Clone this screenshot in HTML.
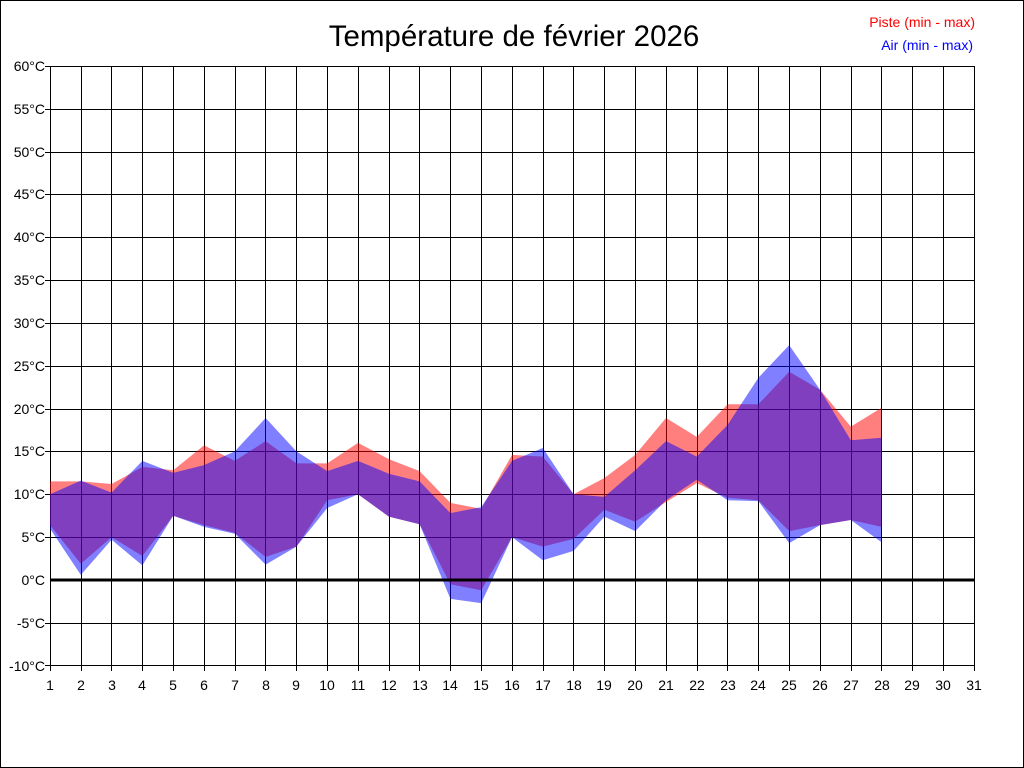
<!DOCTYPE html>
<html><head><meta charset="utf-8"><style>
html,body{margin:0;padding:0;background:#fff;}
svg{display:block;font-family:"Liberation Sans",sans-serif;}
</style></head><body>
<svg width="1024" height="768" viewBox="0 0 1024 768" xmlns="http://www.w3.org/2000/svg">
<rect x="0.5" y="0.5" width="1023" height="767" fill="#fff" stroke="#000"/>
<text x="514" y="46" font-size="29.5" text-anchor="middle" fill="#000">Température de février 2026</text>
<text x="975" y="27" font-size="14" text-anchor="end" fill="#f00">Piste (min - max)</text>
<text x="973" y="50" font-size="14" text-anchor="end" fill="#00f">Air (min - max)</text>
<g stroke="#000" stroke-width="1" shape-rendering="crispEdges">
<path d="M45 66.5H974M45 109.5H974M45 152.5H974M45 194.5H974M45 237.5H974M45 280.5H974M45 323.5H974M45 366.5H974M45 409.5H974M45 451.5H974M45 494.5H974M45 537.5H974M45 623.5H974M45 665.5H974"/>
<path d="M50.5 66V671M81.5 66V671M111.5 66V671M142.5 66V671M173.5 66V671M204.5 66V671M235.5 66V671M265.5 66V671M296.5 66V671M327.5 66V671M358.5 66V671M389.5 66V671M419.5 66V671M450.5 66V671M481.5 66V671M512.5 66V671M543.5 66V671M573.5 66V671M604.5 66V671M635.5 66V671M666.5 66V671M697.5 66V671M727.5 66V671M758.5 66V671M789.5 66V671M820.5 66V671M851.5 66V671M881.5 66V671M912.5 66V671M943.5 66V671M974.5 66V671"/>
</g>
<g transform="translate(50,580) scale(30.8,-8.5714)">
<polygon fill="rgba(255,0,0,0.5)" points="0,11.5 1,11.5 2,11.2 3,13.2 4,12.8 5,15.7 6,13.9 7,16.2 8,13.6 9,13.6 10,16 11,14.1 12,12.7 13,9 14,8.3 15,14.6 16,14.4 17,10 18,11.9 19,14.6 20,18.9 21,16.7 22,20.5 23,20.5 24,24.3 25,22.2 26,17.9 27,20.1 27,6.2 26,7 25,6.4 24,5.7 23,9.3 22,9.6 21,11.3 20,9.1 19,6.8 18,8.2 17,4.8 16,3.9 15,5 14,-1.2 13,-0.5 12,6.5 11,7.4 10,10 9,9.3 8,3.9 7,2.7 6,5.5 5,6.4 4,7.5 3,2.8 2,5 1,1.9 0,6.4"/>
<polygon fill="rgba(0,0,255,0.5)" points="0,10 1,11.6 2,10.2 3,13.9 4,12.5 5,13.4 6,15 7,18.9 8,15 9,12.7 10,13.9 11,12.4 12,11.5 13,7.8 14,8.5 15,13.9 16,15.4 17,10 18,9.7 19,12.8 20,16.2 21,14.4 22,18.1 23,23.6 24,27.4 25,22.2 26,16.3 27,16.6 27,4.4 26,7 25,6.4 24,4.3 23,9.2 22,9.3 21,11.7 20,9.3 19,5.7 18,7.4 17,3.4 16,2.3 15,5 14,-2.7 13,-2.2 12,6.5 11,7.4 10,10 9,8.4 8,3.9 7,1.8 6,5.4 5,6.2 4,7.5 3,1.7 2,4.7 1,0.6 0,6"/>
</g>
<rect x="50" y="578.5" width="925" height="3" fill="#000"/>
<g font-size="14" fill="#000" text-anchor="end">
<text x="45" y="71">60°C</text><text x="45" y="114">55°C</text><text x="45" y="157">50°C</text><text x="45" y="199">45°C</text><text x="45" y="242">40°C</text><text x="45" y="285">35°C</text><text x="45" y="328">30°C</text><text x="45" y="371">25°C</text><text x="45" y="414">20°C</text><text x="45" y="456">15°C</text><text x="45" y="499">10°C</text><text x="45" y="542">5°C</text><text x="45" y="585">0°C</text><text x="45" y="628">-5°C</text><text x="45" y="671">-10°C</text>
</g>
<g font-size="14" fill="#000" text-anchor="middle">
<text x="50" y="690">1</text><text x="81" y="690">2</text><text x="112" y="690">3</text><text x="142" y="690">4</text><text x="173" y="690">5</text><text x="204" y="690">6</text><text x="235" y="690">7</text><text x="266" y="690">8</text><text x="296" y="690">9</text><text x="327" y="690">10</text><text x="358" y="690">11</text><text x="389" y="690">12</text><text x="420" y="690">13</text><text x="450" y="690">14</text><text x="481" y="690">15</text><text x="512" y="690">16</text><text x="543" y="690">17</text><text x="574" y="690">18</text><text x="604" y="690">19</text><text x="635" y="690">20</text><text x="666" y="690">21</text><text x="697" y="690">22</text><text x="728" y="690">23</text><text x="758" y="690">24</text><text x="789" y="690">25</text><text x="820" y="690">26</text><text x="851" y="690">27</text><text x="882" y="690">28</text><text x="912" y="690">29</text><text x="943" y="690">30</text><text x="974" y="690">31</text>
</g>
</svg>
</body></html>
